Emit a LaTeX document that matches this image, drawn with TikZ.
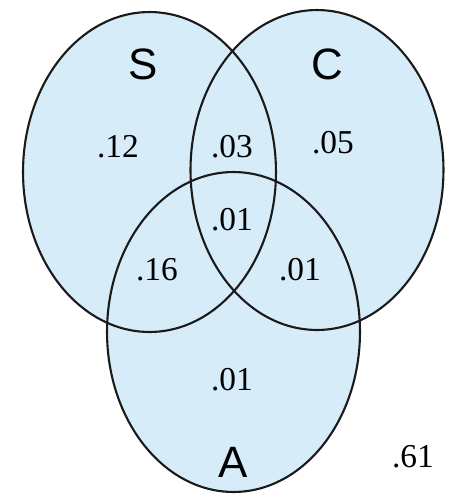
\documentclass[tikz,border=0pt]{standalone}
\usepackage{fontspec}
\setmainfont{Liberation Serif}
\newfontfamily\setfont{Liberation Sans}
\usetikzlibrary{positioning}
\definecolor{vennfill}{HTML}{D6EDF9}
\definecolor{ink}{HTML}{1A1A1A}

\begin{document}
\begin{tikzpicture}[x=0.02cm,y=-0.02cm]
      \useasboundingbox (0,0) rectangle (452,498);
      % fills first, so overlaps keep one tone
      \foreach \cx/\cy in {149.5/172, 317/170, 233.5/332}
        \fill[vennfill] (\cx,\cy) ellipse [x radius=2.53cm, y radius=3.2cm];
      \foreach \cx/\cy in {149.5/172, 317/170, 233.5/332}
        \draw[ink,line width=1.2pt] (\cx,\cy) ellipse [x radius=2.53cm, y radius=3.2cm];
      \node[font=\setfont\fontsize{25}{27}\selectfont] (setS) at (143,64) {S};
      \node[font=\setfont\fontsize{25}{27}\selectfont] (setC) at (327,64) {C};
      \node[font=\setfont\fontsize{25}{27}\selectfont] (setA) at (233,462) {A};
      \node[font=\fontsize{19}{21}\selectfont] (onlyS) at (118,147) {.12};
      \node[font=\fontsize{19}{21}\selectfont] (SC) at (232,147) {.03};
      \node[font=\fontsize{19}{21}\selectfont] (onlyC) at (333,143) {.05};
      \node[font=\fontsize{19}{21}\selectfont] (SCA) at (232,220) {.01};
      \node[font=\fontsize{19}{21}\selectfont] (SA) at (157,270) {.16};
      \node[font=\fontsize{19}{21}\selectfont] (CA) at (300,270) {.01};
      \node[font=\fontsize{19}{21}\selectfont] (onlyA) at (232,380) {.01};
      \node[font=\fontsize{19}{21}\selectfont] (none) at (413,457) {.61};
    \end{tikzpicture}
\end{document}
